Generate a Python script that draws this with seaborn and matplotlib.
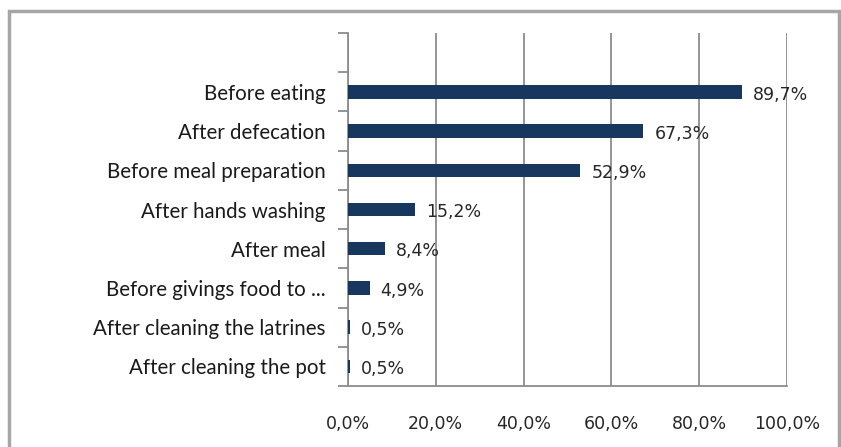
import matplotlib
matplotlib.use("Agg")
import matplotlib.pyplot as plt
import seaborn as sns
import pandas as pd
from matplotlib.patches import Rectangle
from matplotlib.ticker import FixedLocator

categories = [
    "Before eating",
    "After defecation",
    "Before meal preparation",
    "After hands washing",
    "After meal",
    "Before givings food to ...",
    "After cleaning the latrines",
    "After cleaning the pot",
]
values = [89.7, 67.3, 52.9, 15.2, 8.4, 4.9, 0.5, 0.5]
x_ticks = [0, 20, 40, 60, 80, 100]
x_tick_labels = ["0,0%", "20,0%", "40,0%", "60,0%", "80,0%", "100,0%"]

df = pd.DataFrame({"category": categories, "value": values})

sns.set_theme(style="white")
plt.rcParams["font.family"] = ["DejaVu Sans"]

W, H = 841, 447
fig = plt.figure(figsize=(W / 100, H / 100), dpi=100)
fig.patch.set_facecolor("white")

# outer chart frame
fig.add_artist(Rectangle((9 / W, -0.05), (839 - 9) / W, 1.05 - 11 / H,
                         transform=fig.transFigure, fill=False,
                         edgecolor="#a6a6a6", linewidth=2.5, zorder=0))

ax = fig.add_axes([348 / W, 1 - 386 / H, (787 - 348) / W, (386 - 33) / H])

bar_color = "#17375E"
sns.barplot(data=df, x="value", y="category", orient="h", color=bar_color,
            width=0.34, saturation=1, linewidth=0, ax=ax, zorder=3)

ax.set_xlim(0, 100)
ax.set_ylim(len(categories) - 0.5, -1.5)

grid_c = "#8c8c8c"
num_font = dict(family=["DejaVu Sans"], size=12.5, color="#262626")

ax.set_xticks(x_ticks)
ax.set_xticklabels(x_tick_labels, fontdict=num_font)
ax.grid(axis="x", color=grid_c, linewidth=1.3, zorder=0)
ax.tick_params(axis="x", which="major", length=7, width=1.3, color=grid_c,
               direction="out", pad=14)

ax.yaxis.set_minor_locator(FixedLocator([i - 0.5 for i in range(-1, len(categories) + 1)]))
ax.tick_params(axis="y", which="minor", length=7, width=1.3, color=grid_c,
               direction="out", left=True)
ax.tick_params(axis="y", which="major", length=0, pad=16)
for lab in ax.get_yticklabels():
    lab.set_fontfamily(["Lato", "DejaVu Sans"])
    lab.set_fontsize(14.8)
    lab.set_color("#1a1a1a")

for side in ["top", "right"]:
    ax.spines[side].set_visible(False)
for side in ["left", "bottom"]:
    ax.spines[side].set_color(grid_c)
    ax.spines[side].set_linewidth(1.3)

ax.set_xlabel("")
ax.set_ylabel("")

for i, v in enumerate(values):
    ax.annotate(f"{v:.1f}%".replace(".", ","), xy=(v, i), xytext=(8, -2),
                textcoords="offset points", va="center", ha="left",
                zorder=4, **num_font)

fig.savefig("out.png", dpi=100, facecolor="white")
